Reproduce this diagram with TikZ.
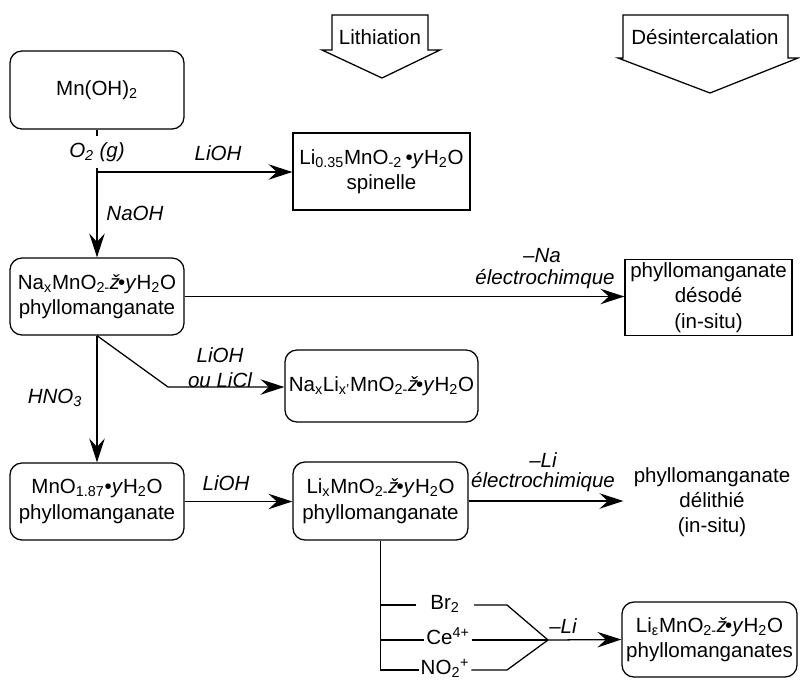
\documentclass[tikz,border=0pt]{standalone}
\usepackage{fontspec}
\setmainfont{Liberation Sans}
\usetikzlibrary{arrows.meta}

\begin{document}
\begin{tikzpicture}[x=0.025cm, y=-0.025cm,
    font=\fontsize{14.6}{18}\selectfont,
    line width=0.9pt,
    boxr/.style={draw, rounded corners=0.3cm, align=center, inner sep=2pt},
    boxs/.style={draw, align=center, inner sep=2pt},
    lbl/.style={font=\fontsize{14.6}{18}\selectfont\itshape, inner sep=1pt},
    reag/.style={text height=10pt, text depth=3pt, inner sep=1pt},
    arr/.style={-{Stealth[length=17pt, width=11pt, inset=6pt]}}]
    \useasboundingbox (0,0) rectangle (800,679);

    % block arrows on top
    \draw (332,15) -- (428,15) -- (428,50) -- (440,50) -- (382,78) -- (322,50) -- (332,50) -- cycle;
    \node (lith) at (380,37) {Lithiation};
    \draw (623,15) -- (788,15) -- (788,58) -- (798,58) -- (710,93) -- (618,58) -- (623,58) -- cycle;
    \node (desint) at (705,37) {Désintercalation};

    % compounds
    \node[boxr, minimum width=4.35cm, minimum height=1.95cm] (mnoh) at (97,90) {Mn(OH)\textsubscript{2}};
    \node[boxs, minimum width=4.425cm, minimum height=1.925cm] (spinel) at (381.5,171.5)
        {Li\textsubscript{0.35}MnO\textsubscript{-2}\,•\textit{y}H\textsubscript{2}O\\spinelle};
    \node[boxr, minimum width=4.35cm, minimum height=1.925cm] (nax) at (97,296.5)
        {Na\textsubscript{x}MnO\textsubscript{2-}\textit{ž}\kern-1.5pt•\textit{y}H\textsubscript{2}O\\phyllomanganate};
    \node[boxs, minimum width=4.175cm, minimum height=1.875cm] (desode) at (708.5,297.5)
        {phyllomanganate\\désodé\\(in-situ)};
    \node[boxr, minimum width=4.825cm, minimum height=1.8cm] (nali) at (381.5,386)
        {Na\textsubscript{x}Li\textsubscript{x'}MnO\textsubscript{2-}\textit{ž}\kern-1.5pt•\textit{y}H\textsubscript{2}O};
    \node[boxr, minimum width=4.35cm, minimum height=1.925cm] (mno) at (97,501.5)
        {MnO\textsubscript{1.87}•\textit{y}H\textsubscript{2}O\\phyllomanganate};
    \node[boxr, minimum width=4.375cm, minimum height=1.95cm] (lix) at (380.5,501)
        {Li\textsubscript{x}MnO\textsubscript{2-}\textit{ž}\kern-1.5pt•\textit{y}H\textsubscript{2}O\\phyllomanganate};
    \node[align=center, inner sep=7pt] (delith) at (712,502) {phyllomanganate\\délithié\\(in-situ)};
    \node[boxr, minimum width=4.375cm, minimum height=1.875cm] (lieps) at (709.5,639.5)
        {Li\textsubscript{ε}MnO\textsubscript{2-}\textit{ž}\kern-1.5pt•\textit{y}H\textsubscript{2}O\\phyllomanganates};

    % reaction labels
    \node[lbl, inner sep=4pt] (o2) at (97,152) {O\textsubscript{2} (g)};
    \node[lbl] (lioha) at (218,153) {LiOH};
    \node[lbl] (naoh) at (135,213) {NaOH};
    \node[lbl] (mna) at (542,256) {–Na};
    \node[lbl] (eleca) at (545,279) {électrochimque};
    \node[lbl] (hno) at (55,398) {HNO\textsubscript{3}};
    \node[lbl] (liohb) at (220,355) {LiOH};
    \node[lbl] (licl) at (220,380) {ou LiCl};
    \node[lbl] (liohc) at (226,483) {LiOH};
    \node[lbl] (mlia) at (543,460) {–Li};
    \node[lbl] (elecb) at (543,482) {électrochimique};
    \node[lbl] (mlib) at (563,626) {–Li};

    % oxidants
    \node[reag, minimum width=1.425cm] (br) at (445,605) {Br\textsubscript{2}};
    \node[reag] (ce) at (448,640) {Ce\textsuperscript{4+}};
    \node[reag] (no) at (445,670) {NO\textsubscript{2}\textsuperscript{+}};

    \coordinate (br1) at (97,172);
    \coordinate (kink) at (168,387);
    \coordinate (bka) at (507,605);
    \coordinate (bkb) at (507,670);
    \coordinate (meet) at (548,640);

    % connectors
    \draw (mnoh.south) -- (o2.north);
    \draw[arr] (o2.south) -- (nax.north);
    \draw[arr] (br1) -- (br1 -| spinel.west);
    \draw[arr] (nax.east) -- (nax.east -| desode.west);
    \draw[arr] (nax.south) -- (mno.north);
    \draw[arr] (nax.south) -- (kink) -- (kink -| nali.west);
    \draw[arr] (mno.east) -- (mno.east -| lix.west);
    \draw[arr] (lix.east) -- (lix.east -| delith.west);

    \draw (lix.south) |- (no.west);
    \draw (lix.south |- br.west) -- (br.west);
    \draw (lix.south |- ce.west) -- (ce.west);
    \draw (br.east) -- (bka) -- (meet);
    \draw (ce.east) -- (meet);
    \draw (no.east) -- (bkb) -- (meet);
    \draw[arr] (meet) -- (lieps.west);
\end{tikzpicture}
\end{document}
